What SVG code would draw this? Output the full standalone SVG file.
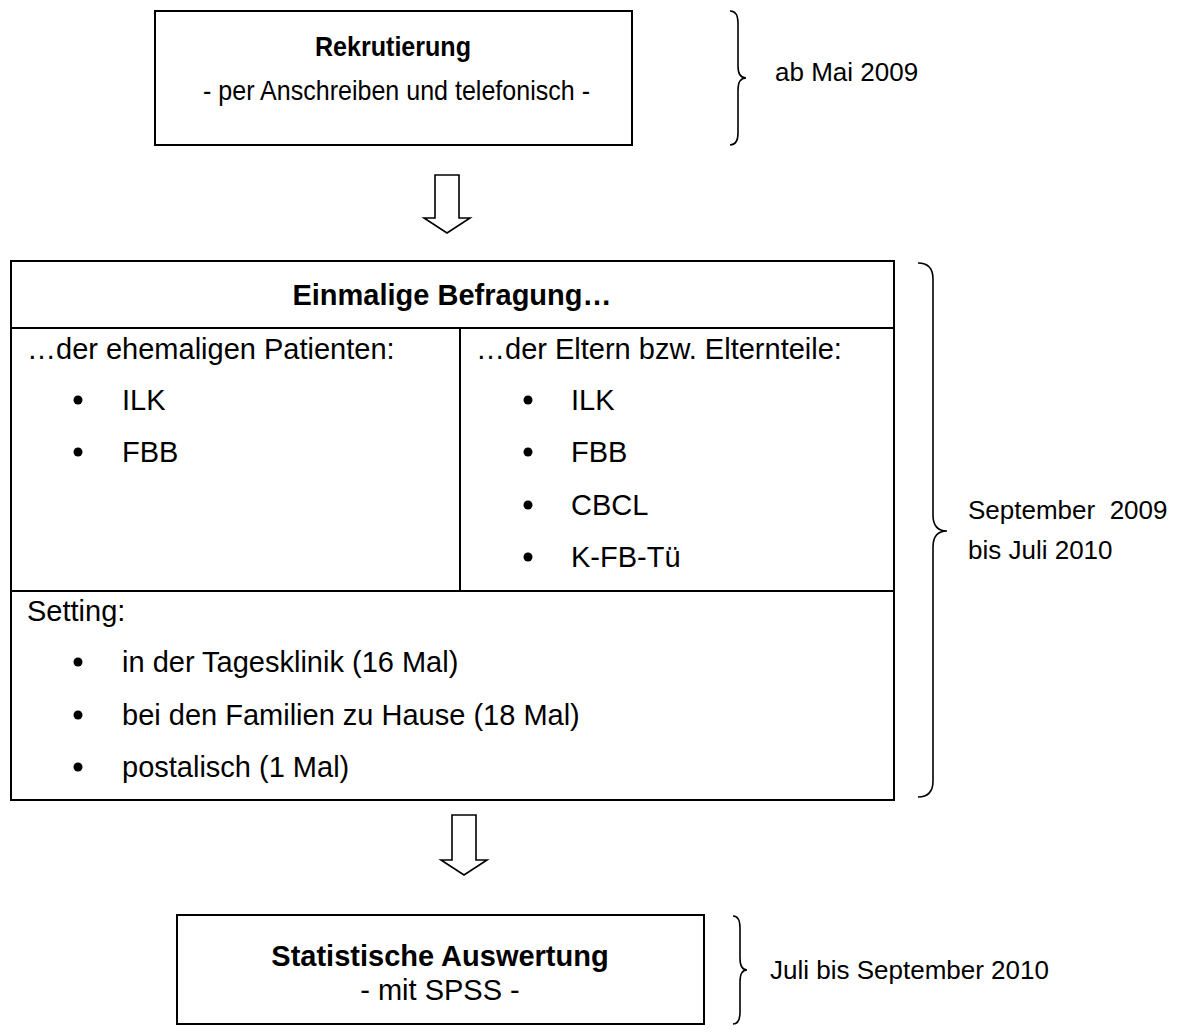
<svg xmlns="http://www.w3.org/2000/svg" width="1200" height="1032" viewBox="0 0 1200 1032">
<style>
text{font-family:"Liberation Sans",Arial,sans-serif;fill:#000}
.t{font-size:29px}
.b{font-size:29px;font-weight:bold}
.tt{font-size:28px}
.tb{font-size:28px;font-weight:bold}
.s{font-size:26px}
.c{text-anchor:middle}
.box{fill:#fff;stroke:#000;stroke-width:2}
.ln{stroke:#000;stroke-width:2;fill:none}
.brace{fill:none;stroke:#000;stroke-width:1.6}
.arrow{fill:#fff;stroke:#000;stroke-width:1.6;stroke-linejoin:miter}
</style>
<rect width="1200" height="1032" fill="#fff"/>
<g id="connectors">
<polygon class="arrow" points="435,175 459,175 459,218 470,218 447,233 424,218 435,218"/>
<polygon class="arrow" points="452,815 476,815 476,860 487,860 464,875 441,860 452,860"/>
</g>
<g id="rekrutierung">
<rect class="box" x="155" y="11" width="477" height="134"/>
<text class="tb" x="315" y="56" textLength="156" lengthAdjust="spacingAndGlyphs">Rekrutierung</text>
<text class="tt" x="203" y="100" textLength="387" lengthAdjust="spacingAndGlyphs">- per Anschreiben und telefonisch -</text>
</g>
<g id="brace-rekrutierung">
<path class="brace" d="M730 11 Q738 11 738 23 L738 66 Q738 78 746 78 Q738 78 738 90 L738 133 Q738 145 730 145"/>
<text class="s" x="775" y="81">ab Mai 2009</text>
</g>
<g id="befragung">
<rect class="box" x="11" y="261" width="883" height="539"/>
<line class="ln" x1="11" y1="328" x2="894" y2="328"/>
<line class="ln" x1="460" y1="328" x2="460" y2="591"/>
<line class="ln" x1="11" y1="591" x2="894" y2="591"/>
<text class="b c" x="452" y="305">Einmalige Befragung…</text>
<text class="t" x="27" y="359">…der ehemaligen Patienten:</text>
<circle cx="78" cy="400" r="4.5"/><text class="t" x="122" y="410">ILK</text>
<circle cx="78" cy="452" r="4.5"/><text class="t" x="122" y="462">FBB</text>
<text class="t" x="476" y="359">…der Eltern bzw. Elternteile:</text>
<circle cx="528" cy="400" r="4.5"/><text class="t" x="571" y="410">ILK</text>
<circle cx="528" cy="452" r="4.5"/><text class="t" x="571" y="462">FBB</text>
<circle cx="528" cy="505" r="4.5"/><text class="t" x="571" y="515">CBCL</text>
<circle cx="528" cy="557" r="4.5"/><text class="t" x="571" y="567">K-FB-Tü</text>
<text class="t" x="27" y="621">Setting:</text>
<circle cx="78" cy="662" r="4.5"/><text class="t" x="122" y="672">in der Tagesklinik (16 Mal)</text>
<circle cx="78" cy="715" r="4.5"/><text class="t" x="122" y="725">bei den Familien zu Hause (18 Mal)</text>
<circle cx="78" cy="767" r="4.5"/><text class="t" x="122" y="777">postalisch (1 Mal)</text>
</g>
<g id="brace-befragung">
<path class="brace" d="M918 263 Q933 263 933 279 L933 515 Q933 531 947 531 Q933 531 933 547 L933 781 Q933 797 918 797"/>
<text class="s" x="968" y="519" style="white-space:pre" xml:space="preserve">September  2009</text>
<text class="s" x="968" y="559">bis Juli 2010</text>
</g>
<g id="auswertung">
<rect class="box" x="177" y="915" width="527" height="109"/>
<text class="b c" x="440" y="966">Statistische Auswertung</text>
<text class="t c" x="440" y="1000">- mit SPSS -</text>
</g>
<g id="brace-auswertung">
<path class="brace" d="M733 916 Q740 916 740 928 L740 958 Q740 970 747 970 Q740 970 740 982 L740 1012 Q740 1024 733 1024"/>
<text class="s" x="770" y="979">Juli bis September 2010</text>
</g>
</svg>
